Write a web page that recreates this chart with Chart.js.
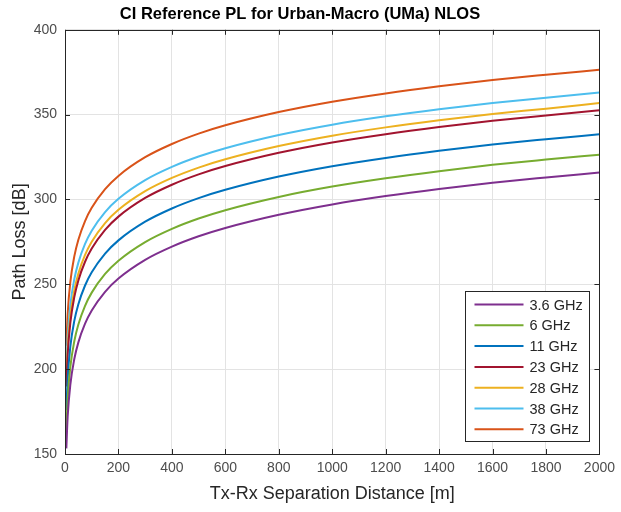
<!DOCTYPE html>
<html>
<head>
<meta charset="utf-8">
<script src="https://cdn.jsdelivr.net/npm/chart.js@4"></script>
<style>
  html, body { margin: 0; padding: 0; background: #fff; }
  canvas { display: block; }
</style>
</head>
<body>
<canvas id="grafico" width="621" height="512"></canvas>
<script>
// distancias (m) e perdas (dB)
const distancias = [5, 10, 20, 35, 50, 75, 100, 150, 200, 300, 400, 500, 600, 800, 1000, 1200, 1400, 1600, 1800, 2000];
const pl36 = [153.3, 172.1, 190.9, 206.1, 215.8, 226.8, 234.6, 245.6, 253.4, 264.4, 272.2, 278.3, 283.2, 291.0, 297.1, 302.0, 306.2, 309.9, 313.0, 315.9];
const pl6 = [163.8, 182.6, 201.4, 216.6, 226.3, 237.3, 245.1, 256.1, 263.9, 274.9, 282.7, 288.8, 293.7, 301.5, 307.6, 312.5, 316.7, 320.4, 323.5, 326.4];
const pl11 = [175.8, 194.6, 213.4, 228.6, 238.3, 249.3, 257.1, 268.1, 275.9, 286.9, 294.7, 300.8, 305.7, 313.5, 319.6, 324.5, 328.7, 332.4, 335.5, 338.4];
const pl23 = [189.8, 208.6, 227.4, 242.6, 252.3, 263.3, 271.1, 282.1, 289.9, 300.9, 308.7, 314.8, 319.7, 327.5, 333.6, 338.5, 342.7, 346.4, 349.5, 352.6];
const pl28 = [193.8, 212.6, 231.4, 246.6, 256.3, 267.3, 275.1, 286.1, 293.9, 304.9, 312.7, 318.8, 323.7, 331.5, 337.6, 342.5, 346.7, 350.4, 353.5, 356.8];
const pl38 = [200.3, 219.1, 237.9, 253.1, 262.8, 273.8, 281.6, 292.6, 300.4, 311.4, 319.2, 325.3, 330.2, 338.0, 344.1, 349.0, 353.2, 356.9, 360.0, 363.1];
const pl73 = [213.8, 232.6, 251.4, 266.6, 276.3, 287.3, 295.1, 306.1, 313.9, 324.9, 332.7, 338.8, 343.7, 351.5, 357.6, 362.5, 366.7, 370.4, 373.5, 376.4];

const nomes = ['3.6 GHz', '6 GHz', '11 GHz', '23 GHz', '28 GHz', '38 GHz', '73 GHz'];
const series = [pl36, pl6, pl11, pl23, pl28, pl38, pl73];
const cores = ['#7E2F8E', '#77AC30', '#0072BD', '#A2142F', '#EDB120', '#4DBEEE', '#D95319'];

const fonte = "'Liberation Sans', Arial, Helvetica, sans-serif";

// moldura com ticks para dentro (estilo matlab)
const moldura = {
    id: 'moldura',
    afterDatasetsDraw(chart) {
        const { ctx, chartArea: a, scales } = chart;
        ctx.save();
        ctx.strokeStyle = '#262626';
        ctx.lineWidth = 1;
        ctx.beginPath();
        scales.x.ticks.forEach(t => {
            const x = Math.round(scales.x.getPixelForValue(t.value)) + 0.5;
            ctx.moveTo(x, a.bottom); ctx.lineTo(x, a.bottom - 5);
            ctx.moveTo(x, a.top); ctx.lineTo(x, a.top + 5);
        });
        scales.y.ticks.forEach(t => {
            const y = Math.round(scales.y.getPixelForValue(t.value)) + 0.5;
            ctx.moveTo(a.left, y); ctx.lineTo(a.left + 5, y);
            ctx.moveTo(a.right, y); ctx.lineTo(a.right - 5, y);
        });
        ctx.stroke();
        ctx.strokeRect(Math.round(a.left) + 0.5, Math.round(a.top) + 0.5, Math.round(a.right - a.left), Math.round(a.bottom - a.top));

        // legenda
        const w = 124, h = 150;
        const lx = Math.round(a.right - 10 - w) + 0.5;
        const ly = Math.round(a.bottom - 13 - h) + 0.5;
        ctx.fillStyle = '#fff';
        ctx.fillRect(lx, ly, w, h);
        ctx.strokeStyle = '#262626';
        ctx.strokeRect(lx, ly, w, h);
        ctx.font = '14.5px ' + fonte;
        ctx.textBaseline = 'middle';
        ctx.textAlign = 'left';
        chart.data.datasets.forEach((ds, i) => {
            const y = ly + 13 + i * 20.8;
            ctx.strokeStyle = ds.borderColor;
            ctx.lineWidth = 2;
            ctx.beginPath();
            ctx.moveTo(lx + 9, y); ctx.lineTo(lx + 58, y);
            ctx.stroke();
            ctx.fillStyle = '#262626';
            ctx.fillText(ds.label, lx + 64, y + 1);
        });
        ctx.restore();
    }
};

const ctx1 = document.getElementById('grafico');

const chart1 = new Chart(ctx1, {
    type: 'line',
    data: {
        labels: distancias,
        datasets: series.map((s, i) => ({
            label: nomes[i],
            data: s.map((v, j) => ({ x: distancias[j], y: v })),
            borderColor: cores[i],
            backgroundColor: cores[i],
            borderWidth: 2,
            pointRadius: 0,
            cubicInterpolationMode: 'monotone',
            fill: false
        }))
    },
    options: {
        responsive: false,
        animation: false,
        layout: { padding: { left: 0, right: 21, top: 0, bottom: 0 } },
        scales: {
            x: {
                type: 'linear',
                min: 0,
                max: 2000,
                ticks: {
                    stepSize: 200, color: '#4d4d4d', padding: 6, maxRotation: 0,
                    font: { family: fonte, size: 14 },
                    callback: function (value) { return String(value); }
                },
                grid: { color: '#e3e3e3', drawTicks: false },
                border: { display: false },
                title: { display: true, text: 'Tx-Rx Separation Distance [m]', color: '#262626', font: { family: fonte, size: 18 }, padding: { top: 4, bottom: 7 } },
                afterFit(scale) { scale.height = 58; }
            },
            y: {
                min: 150,
                max: 400,
                ticks: { stepSize: 50, color: '#4d4d4d', padding: 8, font: { family: fonte, size: 14 } },
                grid: { color: '#e3e3e3', drawTicks: false },
                border: { display: false },
                title: { display: true, text: 'Path Loss [dB]', color: '#262626', font: { family: fonte, size: 18 }, padding: { top: 9, bottom: 0 } },
                afterFit(scale) { scale.width = 65; }
            }
        },
        plugins: {
            legend: { display: false },
            tooltip: { enabled: false },
            title: {
                display: true,
                text: 'CI Reference PL for Urban-Macro (UMa) NLOS',
                color: '#000',
                font: { family: fonte, size: 16.5, weight: 'bold' },
                padding: { top: 5, bottom: 5 }
            }
        }
    },
    plugins: [moldura]
});
</script>
</body>
</html>
